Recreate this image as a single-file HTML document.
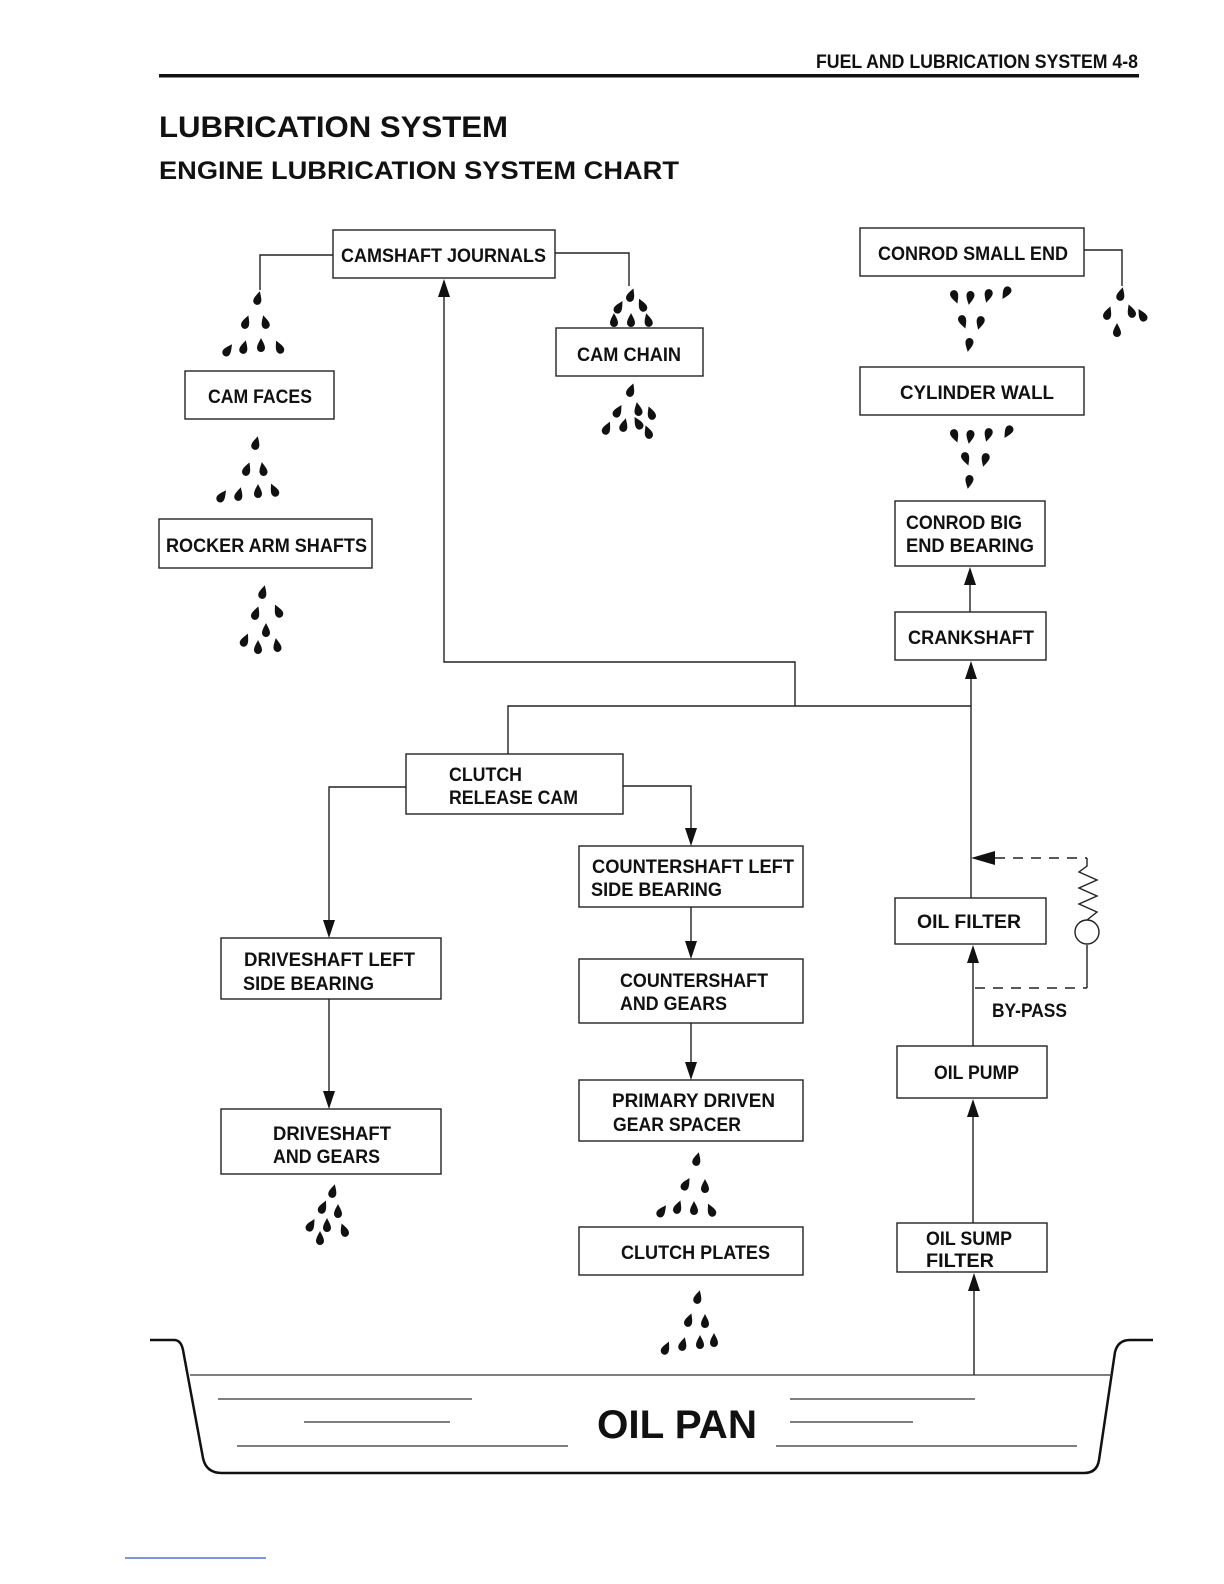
<!DOCTYPE html>
<html><head><meta charset="utf-8"><style>
html,body{margin:0;padding:0;background:#fff;width:1224px;height:1584px;overflow:hidden;}
svg{display:block;width:1224px;height:1584px;}
.t{font-family:"Liberation Sans",sans-serif;font-weight:bold;font-size:19px;fill:#111;}
</style></head><body>
<svg width="1224" height="1584" viewBox="0 0 1224 1584" xmlns="http://www.w3.org/2000/svg">
<defs>
<path id="d" d="M0,-7 C2,-3 4,0 4,3 A4,4 0 0 1 -4,3 C-4,0 -2,-3 0,-7Z" fill="#111"/>
<path id="a" d="M0,0 L-6,18 L6,18Z" fill="#111"/>
</defs>
<text x="1138" y="68" text-anchor="end" class="t" style="font-size:19px" textLength="322" lengthAdjust="spacingAndGlyphs">FUEL AND LUBRICATION SYSTEM 4-8</text>
<rect x="159" y="74" width="980" height="3.5" fill="#111"/>
<text x="159" y="137" class="t" style="font-size:30px;font-weight:600" textLength="349" lengthAdjust="spacingAndGlyphs">LUBRICATION SYSTEM</text>
<text x="159" y="179" class="t" style="font-size:25px;font-weight:600" textLength="520" lengthAdjust="spacingAndGlyphs">ENGINE LUBRICATION SYSTEM CHART</text>

<g fill="none" stroke="#222" stroke-width="1.4">
<rect x="333" y="230" width="222" height="48"/>
<rect x="556" y="328" width="147" height="48"/>
<rect x="185" y="371" width="149" height="48"/>
<rect x="159" y="519" width="213" height="49"/>
<rect x="860" y="228" width="224" height="48"/>
<rect x="860" y="367" width="224" height="48"/>
<rect x="895" y="501" width="150" height="65"/>
<rect x="895" y="612" width="151" height="48"/>
<rect x="406" y="754" width="217" height="60"/>
<rect x="579" y="846" width="224" height="61"/>
<rect x="579" y="959" width="224" height="64"/>
<rect x="579" y="1080" width="224" height="61"/>
<rect x="579" y="1227" width="224" height="48"/>
<rect x="221" y="938" width="220" height="61"/>
<rect x="221" y="1109" width="220" height="65"/>
<rect x="895" y="898" width="151" height="46"/>
<rect x="897" y="1046" width="150" height="52"/>
<rect x="897" y="1223" width="150" height="49"/>
<polyline points="333,255 260,255 260,290"/>
<polyline points="555,253 629,253 629,286"/>
<polyline points="1084,250 1122,250 1122,286"/>
<polyline points="444,290 444,662 795,662 795,706"/>
<polyline points="508,754 508,706 971,706"/>
<polyline points="406,787 329,787 329,925"/>
<polyline points="623,786 691,786 691,832"/>
<line x1="691" y1="907" x2="691" y2="945"/>
<line x1="691" y1="1023" x2="691" y2="1066"/>
<line x1="329" y1="999" x2="329" y2="1095"/>
<line x1="971" y1="898" x2="971" y2="672"/>
<line x1="970" y1="612" x2="970" y2="578"/>
<line x1="973" y1="1046" x2="973" y2="956"/>
<line x1="973" y1="1223" x2="973" y2="1110"/>
<line x1="974" y1="1375" x2="974" y2="1284"/>
<polyline points="1087,945 1087,988"/>
<polyline points="1087,858 1087,866 1079,872 1097,880 1079,888 1097,896 1079,904 1097,912 1087,920"/>
<circle cx="1087" cy="932" r="12"/>
</g>
<g stroke="#222" stroke-width="1.4" fill="none" stroke-dasharray="10,8">
<line x1="975" y1="988" x2="1087" y2="988"/>
<line x1="995" y1="858" x2="1087" y2="858"/>
</g>
<path d="M971,858 L995,851 L995,865Z" fill="#111"/>
<use href="#a" x="444" y="279"/>
<use href="#a" x="691" y="827" transform="rotate(180 691 836.5)"/>
<use href="#a" x="691" y="940" transform="rotate(180 691 949.5)"/>
<use href="#a" x="691" y="1061" transform="rotate(180 691 1070.5)"/>
<use href="#a" x="329" y="919" transform="rotate(180 329 928.5)"/>
<use href="#a" x="329" y="1090" transform="rotate(180 329 1099.5)"/>
<use href="#a" x="971" y="661"/>
<use href="#a" x="970" y="567"/>
<use href="#a" x="973" y="945"/>
<use href="#a" x="973" y="1099"/>
<use href="#a" x="974" y="1273"/>

<g>
<use href="#d" x="258" y="298" transform="rotate(15 258 298)"/>
<use href="#d" x="246" y="322" transform="rotate(20 246 322)"/>
<use href="#d" x="265" y="322" transform="rotate(-15 265 322)"/>
<use href="#d" x="228" y="350" transform="rotate(35 228 350)"/>
<use href="#d" x="244" y="347" transform="rotate(15 244 347)"/>
<use href="#d" x="261" y="345"/>
<use href="#d" x="279" y="347" transform="rotate(-25 279 347)"/>

<use href="#d" x="631" y="295" transform="rotate(20 631 295)"/>
<use href="#d" x="619" y="307" transform="rotate(30 619 307)"/>
<use href="#d" x="642" y="305" transform="rotate(-25 642 305)"/>
<use href="#d" x="631" y="320"/>
<use href="#d" x="648" y="320" transform="rotate(-15 648 320)"/>
<use href="#d" x="614" y="320"/>

<use href="#d" x="631" y="390" transform="rotate(20 631 390)"/>
<use href="#d" x="618" y="411" transform="rotate(30 618 411)"/>
<use href="#d" x="638" y="409" transform="rotate(-10 638 409)"/>
<use href="#d" x="651" y="413" transform="rotate(-20 651 413)"/>
<use href="#d" x="607" y="428" transform="rotate(25 607 428)"/>
<use href="#d" x="624" y="425" transform="rotate(15 624 425)"/>
<use href="#d" x="638" y="423" transform="rotate(-30 638 423)"/>
<use href="#d" x="648" y="432" transform="rotate(-20 648 432)"/>

<use href="#d" x="256" y="443" transform="rotate(15 256 443)"/>
<use href="#d" x="247" y="469" transform="rotate(20 247 469)"/>
<use href="#d" x="263" y="469" transform="rotate(-10 263 469)"/>
<use href="#d" x="222" y="496" transform="rotate(35 222 496)"/>
<use href="#d" x="239" y="494" transform="rotate(15 239 494)"/>
<use href="#d" x="258" y="491"/>
<use href="#d" x="274" y="490" transform="rotate(-25 274 490)"/>

<use href="#d" x="263" y="592" transform="rotate(15 263 592)"/>
<use href="#d" x="256" y="613" transform="rotate(20 256 613)"/>
<use href="#d" x="278" y="611" transform="rotate(-25 278 611)"/>
<use href="#d" x="266" y="630"/>
<use href="#d" x="245" y="640" transform="rotate(25 245 640)"/>
<use href="#d" x="258" y="647"/>
<use href="#d" x="277" y="645" transform="rotate(-10 277 645)"/>

<use href="#d" x="955" y="297" transform="rotate(160 955 297)"/>
<use href="#d" x="970" y="298" transform="rotate(190 970 298)"/>
<use href="#d" x="988" y="296" transform="rotate(195 988 296)"/>
<use href="#d" x="1006" y="293" transform="rotate(210 1006 293)"/>
<use href="#d" x="963" y="322" transform="rotate(160 963 322)"/>
<use href="#d" x="980" y="323" transform="rotate(195 980 323)"/>
<use href="#d" x="969" y="345" transform="rotate(190 969 345)"/>

<use href="#d" x="1121" y="294" transform="rotate(15 1121 294)"/>
<use href="#d" x="1108" y="313" transform="rotate(20 1108 313)"/>
<use href="#d" x="1142" y="315" transform="rotate(-30 1142 315)"/>
<use href="#d" x="1131" y="311" transform="rotate(-20 1131 311)"/>
<use href="#d" x="1117" y="330"/>

<use href="#d" x="955" y="436" transform="rotate(160 955 436)"/>
<use href="#d" x="970" y="437" transform="rotate(190 970 437)"/>
<use href="#d" x="988" y="435" transform="rotate(195 988 435)"/>
<use href="#d" x="1008" y="432" transform="rotate(210 1008 432)"/>
<use href="#d" x="966" y="459" transform="rotate(160 966 459)"/>
<use href="#d" x="985" y="460" transform="rotate(195 985 460)"/>
<use href="#d" x="969" y="482" transform="rotate(190 969 482)"/>

<use href="#d" x="333" y="1191" transform="rotate(15 333 1191)"/>
<use href="#d" x="323" y="1207" transform="rotate(25 323 1207)"/>
<use href="#d" x="338" y="1211"/>
<use href="#d" x="311" y="1225" transform="rotate(30 311 1225)"/>
<use href="#d" x="327" y="1225"/>
<use href="#d" x="344" y="1230" transform="rotate(-20 344 1230)"/>
<use href="#d" x="320" y="1238"/>

<use href="#d" x="697" y="1159" transform="rotate(15 697 1159)"/>
<use href="#d" x="686" y="1184" transform="rotate(30 686 1184)"/>
<use href="#d" x="705" y="1186"/>
<use href="#d" x="662" y="1211" transform="rotate(35 662 1211)"/>
<use href="#d" x="678" y="1207" transform="rotate(20 678 1207)"/>
<use href="#d" x="694" y="1208"/>
<use href="#d" x="711" y="1210" transform="rotate(-25 711 1210)"/>

<use href="#d" x="698" y="1297" transform="rotate(15 698 1297)"/>
<use href="#d" x="689" y="1320" transform="rotate(20 689 1320)"/>
<use href="#d" x="705" y="1321"/>
<use href="#d" x="666" y="1348" transform="rotate(25 666 1348)"/>
<use href="#d" x="683" y="1344" transform="rotate(15 683 1344)"/>
<use href="#d" x="700" y="1342"/>
<use href="#d" x="714" y="1340"/>
</g>

<text class="t" x="341" y="262" textLength="205" lengthAdjust="spacingAndGlyphs">CAMSHAFT JOURNALS</text>
<text class="t" x="577" y="361" textLength="104" lengthAdjust="spacingAndGlyphs">CAM CHAIN</text>
<text class="t" x="208" y="403" textLength="104" lengthAdjust="spacingAndGlyphs">CAM FACES</text>
<text class="t" x="166" y="552" textLength="201" lengthAdjust="spacingAndGlyphs">ROCKER ARM SHAFTS</text>
<text class="t" x="878" y="260" textLength="190" lengthAdjust="spacingAndGlyphs">CONROD SMALL END</text>
<text class="t" x="900" y="399" textLength="154" lengthAdjust="spacingAndGlyphs">CYLINDER WALL</text>
<text class="t" x="906" y="529" textLength="116" lengthAdjust="spacingAndGlyphs">CONROD BIG</text>
<text class="t" x="906" y="552" textLength="128" lengthAdjust="spacingAndGlyphs">END BEARING</text>
<text class="t" x="908" y="644" textLength="126" lengthAdjust="spacingAndGlyphs">CRANKSHAFT</text>
<text class="t" x="449" y="781" textLength="73" lengthAdjust="spacingAndGlyphs">CLUTCH</text>
<text class="t" x="449" y="804" textLength="129" lengthAdjust="spacingAndGlyphs">RELEASE CAM</text>
<text class="t" x="592" y="873" textLength="202" lengthAdjust="spacingAndGlyphs">COUNTERSHAFT LEFT</text>
<text class="t" x="591" y="896" textLength="131" lengthAdjust="spacingAndGlyphs">SIDE BEARING</text>
<text class="t" x="620" y="987" textLength="148" lengthAdjust="spacingAndGlyphs">COUNTERSHAFT</text>
<text class="t" x="620" y="1010" textLength="107" lengthAdjust="spacingAndGlyphs">AND GEARS</text>
<text class="t" x="612" y="1107" textLength="163" lengthAdjust="spacingAndGlyphs">PRIMARY DRIVEN</text>
<text class="t" x="613" y="1131" textLength="128" lengthAdjust="spacingAndGlyphs">GEAR SPACER</text>
<text class="t" x="621" y="1259" textLength="149" lengthAdjust="spacingAndGlyphs">CLUTCH PLATES</text>
<text class="t" x="244" y="966" textLength="171" lengthAdjust="spacingAndGlyphs">DRIVESHAFT LEFT</text>
<text class="t" x="243" y="990" textLength="131" lengthAdjust="spacingAndGlyphs">SIDE BEARING</text>
<text class="t" x="273" y="1140" textLength="118" lengthAdjust="spacingAndGlyphs">DRIVESHAFT</text>
<text class="t" x="273" y="1163" textLength="107" lengthAdjust="spacingAndGlyphs">AND GEARS</text>
<text class="t" x="917" y="928" textLength="104" lengthAdjust="spacingAndGlyphs">OIL FILTER</text>
<text class="t" x="934" y="1079" textLength="85" lengthAdjust="spacingAndGlyphs">OIL PUMP</text>
<text class="t" x="926" y="1245" textLength="86" lengthAdjust="spacingAndGlyphs">OIL SUMP</text>
<text class="t" x="926" y="1267" textLength="68" lengthAdjust="spacingAndGlyphs">FILTER</text>
<text class="t" x="992" y="1017" textLength="75" lengthAdjust="spacingAndGlyphs">BY-PASS</text>

<path d="M150,1340 H174 Q181,1340 183,1350 L203,1458 Q206,1473 222,1473 H1084 Q1097,1473 1099,1460 L1115,1352 Q1118,1340 1130,1340 H1153" fill="none" stroke="#111" stroke-width="2.5"/>
<g stroke="#333" stroke-width="1.3">
<line x1="190" y1="1375" x2="1112" y2="1375"/>
<line x1="218" y1="1399" x2="472" y2="1399"/>
<line x1="304" y1="1422" x2="450" y2="1422"/>
<line x1="237" y1="1446" x2="568" y2="1446"/>
<line x1="790" y1="1399" x2="975" y2="1399"/>
<line x1="790" y1="1422" x2="913" y2="1422"/>
<line x1="776" y1="1446" x2="1077" y2="1446"/>
</g>
<text class="t" x="597" y="1438" style="font-size:40px;font-weight:bold" textLength="160" lengthAdjust="spacingAndGlyphs">OIL PAN</text>
<line x1="125" y1="1558" x2="266" y2="1558" stroke="#3355cc" stroke-width="1.3"/>
</svg>
</body></html>
